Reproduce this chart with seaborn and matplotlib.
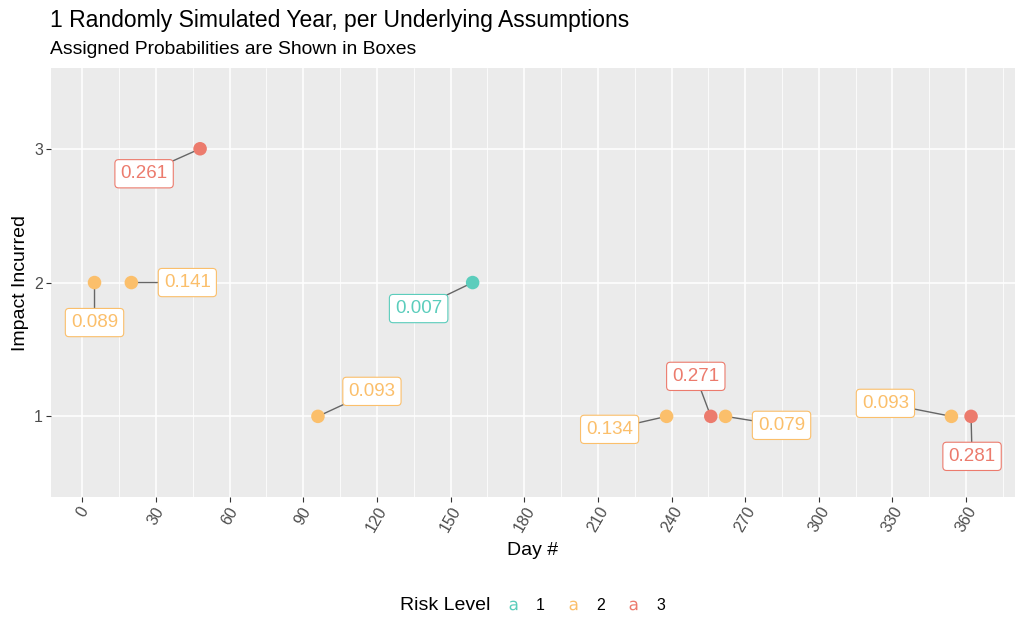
import matplotlib
matplotlib.use('Agg')
import pandas as pd
import matplotlib.pyplot as plt
import seaborn as sns
from matplotlib.lines import Line2D
from matplotlib.ticker import MultipleLocator

# one simulated year of risk events
days = [5, 20, 48, 96, 159, 238, 256, 262, 354, 362]
impact = [2, 2, 3, 1, 2, 1, 1, 1, 1, 1]
risk = [2, 2, 3, 2, 1, 2, 3, 2, 2, 3]
prob = [0.089, 0.141, 0.261, 0.093, 0.007, 0.134, 0.271, 0.079, 0.093, 0.281]
levels = [1, 2, 3]
x_ticks = list(range(0, 361, 30))
y_ticks = [1, 2, 3]

# label placement (pixel offsets from each point, like ggrepel put them)
label_offsets = [(0, -40), (56, 0), (-56, -25), (54, 25), (-54, -26),
                 (-57, -13), (-15, 40), (56, -9), (-66, 13), (1, -40)]

colors = {1: '#5BCDBC', 2: '#FBBF6B', 3: '#EC7B6D'}

df = pd.DataFrame({'day': days, 'impact': impact, 'risk': risk, 'prob': prob})

sns.set_theme(style='darkgrid', rc={'axes.facecolor': '#EBEBEB',
                                    'grid.color': 'white',
                                    'text.color': 'black',
                                    'axes.labelcolor': 'black'})
plt.rcParams['font.family'] = ['Liberation Sans', 'DejaVu Sans']

fig = plt.figure(figsize=(10.24, 6.4), dpi=100)
ax = fig.add_axes([0.0495, 0.224, 0.9416, 0.669])

sns.scatterplot(data=df, x='day', y='impact', hue='risk', palette=colors,
                s=95, linewidth=0, legend=False, ax=ax, zorder=3)

for (d, im, r, p), (ox, oy) in zip(zip(days, impact, risk, prob), label_offsets):
    c = colors[r]
    ax.annotate('{:.3f}'.format(p), xy=(d, im), xytext=(ox * 0.72, oy * 0.72),
                textcoords='offset points', ha='center', va='center',
                fontsize=13.5, color=c, zorder=2,
                bbox=dict(boxstyle='round,pad=0.3,rounding_size=0.2',
                          fc='white', ec=c, lw=0.8),
                arrowprops=dict(arrowstyle='-', color='#666666', lw=1.0,
                                shrinkA=0, shrinkB=0))

ax.set_xlim(-12.85, 379.85)
ax.set_ylim(0.4, 3.6)
ax.set_xticks(x_ticks)
ax.set_yticks(y_ticks)
ax.xaxis.set_minor_locator(MultipleLocator(15))
ax.grid(which='major', color='white', lw=1.1)
ax.grid(which='minor', axis='x', color='white', lw=0.55)
ax.tick_params(which='minor', length=0)
ax.tick_params(which='major', length=3.5, width=0.8, color='#333333',
               labelcolor='#4D4D4D', labelsize=11.5, pad=2, bottom=True, left=True)
plt.setp(ax.get_xticklabels(), rotation=60, ha='center')
for s in ax.spines.values():
    s.set_visible(False)

ax.set_xlabel('Day #', fontsize=14)
ax.set_ylabel('Impact Incurred', fontsize=14)
ax.xaxis.set_label_coords(0.5, -0.107)
ax.yaxis.set_label_coords(-0.023, 0.5)

fig.text(50 / 1024, 1 - 20 / 640, '1 Randomly Simulated Year, per Underlying Assumptions',
         fontsize=16.5, va='center')
fig.text(50 / 1024, 1 - 50 / 640, 'Assigned Probabilities are Shown in Boxes',
         fontsize=13.9, va='center')

# legend: title on the left, letter keys like ggplot's label legend
fig.text(400 / 1024, 1 - 606 / 640, 'Risk Level', fontsize=14, va='center')
handles = [Line2D([], [], ls='', marker=r'$\mathrm{a}$', markersize=7,
                  color=colors[lv], markeredgewidth=0) for lv in levels]
fig.legend(handles, [str(lv) for lv in levels], loc='center left',
           bbox_to_anchor=(497 / 1024, 1 - 606 / 640), ncol=3, frameon=False,
           fontsize=11.5, handletextpad=0.85, columnspacing=1.15, handlelength=1.2,
           borderaxespad=0)

plt.savefig('out.png', dpi=100)
